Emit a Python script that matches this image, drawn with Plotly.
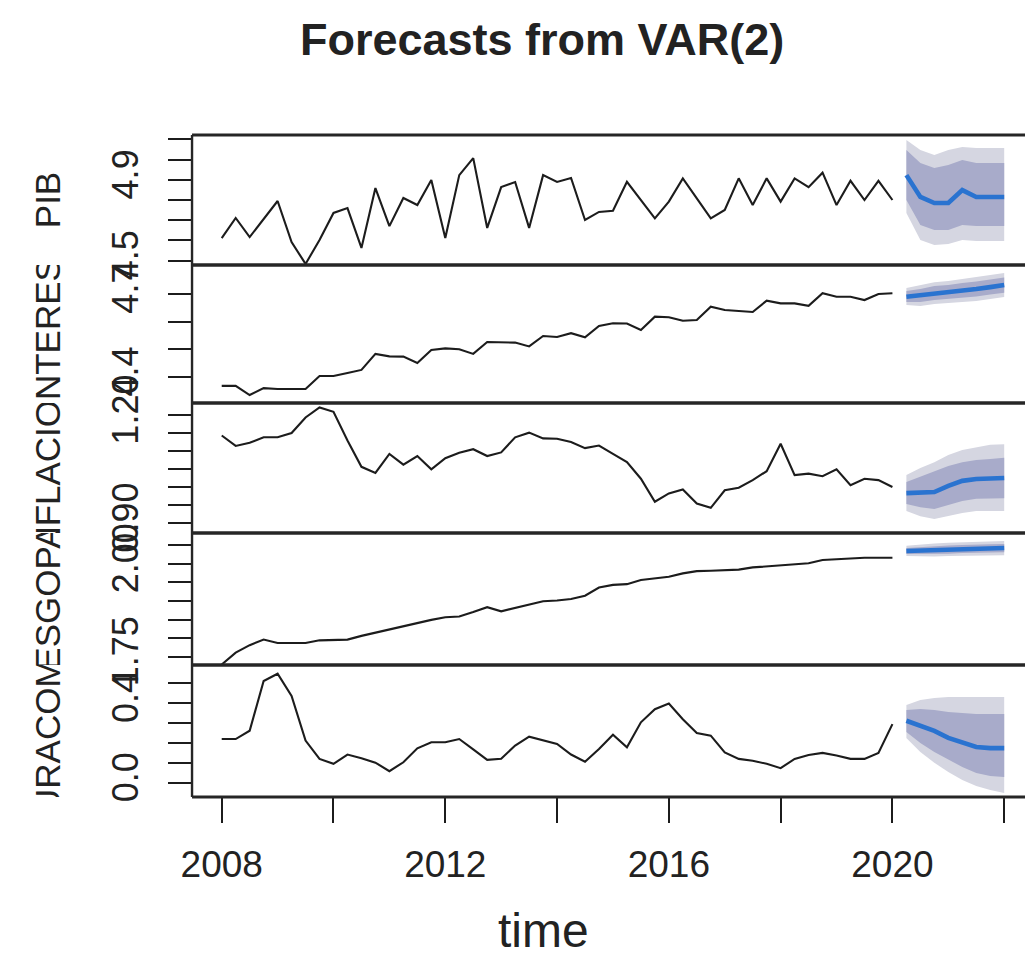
import plotly.graph_objects as go

# ---------------- data ----------------
time = [2008 + q / 4 for q in range(49)]          # 2008Q1 .. 2020Q1
fc_time = [2020 + q / 4 for q in range(1, 9)]     # 2020Q2 .. 2022Q1

names = ["PIB", "INTERES", "INFLACION", "RIESGOPAIS", "APERTURACOMERCIAL"]

pib = [4.612, 4.711, 4.617, 4.706, 4.795, 4.592, 4.484, 4.602, 4.736, 4.760,
       4.563, 4.859, 4.671, 4.810, 4.775, 4.899, 4.612, 4.923, 5.007, 4.662,
       4.864, 4.889, 4.662, 4.923, 4.889, 4.909, 4.701, 4.741, 4.747, 4.890,
       4.800, 4.709, 4.792, 4.907, 4.808, 4.709, 4.751, 4.907, 4.775, 4.907,
       4.792, 4.907, 4.863, 4.935, 4.775, 4.895, 4.800, 4.895, 4.800]
interes = [4.367, 4.367, 4.334, 4.359, 4.356, 4.356, 4.356, 4.403, 4.403, 4.414,
           4.425, 4.483, 4.474, 4.473, 4.450, 4.497, 4.503, 4.500, 4.483, 4.526,
           4.526, 4.524, 4.510, 4.548, 4.544, 4.558, 4.543, 4.584, 4.594, 4.593,
           4.570, 4.618, 4.616, 4.603, 4.606, 4.654, 4.642, 4.639, 4.635, 4.676,
           4.666, 4.666, 4.657, 4.703, 4.690, 4.690, 4.678, 4.700, 4.703]
inflacion = [1.143, 1.114, 1.123, 1.138, 1.138, 1.150, 1.193, 1.221, 1.209, 1.129,
             1.056, 1.039, 1.092, 1.062, 1.086, 1.049, 1.080, 1.095, 1.105, 1.086,
             1.096, 1.138, 1.151, 1.135, 1.134, 1.125, 1.108, 1.115, 1.092, 1.069,
             1.023, 0.959, 0.982, 0.993, 0.954, 0.942, 0.991, 0.998, 1.019, 1.044,
             1.120, 1.033, 1.037, 1.030, 1.049, 1.005, 1.023, 1.019, 1.000]
riesgo = [1.729, 1.761, 1.781, 1.796, 1.787, 1.787, 1.787, 1.794, 1.795, 1.796,
          1.806, 1.815, 1.824, 1.833, 1.841, 1.849, 1.856, 1.858, 1.870, 1.883,
          1.872, 1.881, 1.889, 1.899, 1.901, 1.905, 1.914, 1.936, 1.943, 1.945,
          1.956, 1.961, 1.965, 1.974, 1.980, 1.981, 1.982, 1.984, 1.990, 1.993,
          1.997, 1.999, 2.001, 2.010, 2.012, 2.015, 2.016, 2.016, 2.016]
apertura = [0.220, 0.220, 0.262, 0.512, 0.549, 0.437, 0.212, 0.120, 0.095, 0.142,
            0.123, 0.101, 0.058, 0.103, 0.173, 0.204, 0.204, 0.220, 0.168, 0.115,
            0.121, 0.187, 0.232, 0.212, 0.195, 0.142, 0.106, 0.170, 0.242, 0.178,
            0.304, 0.370, 0.399, 0.320, 0.250, 0.237, 0.153, 0.120, 0.111, 0.095,
            0.073, 0.120, 0.140, 0.150, 0.137, 0.120, 0.120, 0.150, 0.295]

# forecasts: mean, 80% and 95% intervals
pib_mean = [4.923, 4.815, 4.785, 4.785, 4.849, 4.815, 4.815, 4.815]
pib_hi80 = [5.047, 4.983, 4.958, 4.973, 4.998, 4.983, 4.983, 4.983]
pib_lo80 = [4.800, 4.676, 4.652, 4.652, 4.676, 4.671, 4.671, 4.671]
pib_hi95 = [5.096, 5.047, 5.022, 5.047, 5.062, 5.057, 5.057, 5.057]
pib_lo95 = [4.736, 4.602, 4.578, 4.582, 4.602, 4.597, 4.597, 4.597]

int_mean = [4.690, 4.695, 4.704, 4.707, 4.713, 4.718, 4.725, 4.733]
int_hi80 = [4.711, 4.718, 4.729, 4.733, 4.740, 4.745, 4.753, 4.760]
int_lo80 = [4.671, 4.671, 4.678, 4.682, 4.686, 4.691, 4.698, 4.705]
int_hi95 = [4.722, 4.733, 4.743, 4.747, 4.754, 4.762, 4.769, 4.776]
int_lo95 = [4.660, 4.657, 4.664, 4.667, 4.671, 4.675, 4.682, 4.689]

inf_mean = [0.983, 0.983, 0.986, 1.003, 1.017, 1.022, 1.025, 1.025]
inf_hi80 = [1.014, 1.028, 1.042, 1.058, 1.069, 1.075, 1.078, 1.081]
inf_lo80 = [0.953, 0.944, 0.939, 0.950, 0.961, 0.967, 0.969, 0.969]
inf_hi95 = [1.033, 1.053, 1.069, 1.089, 1.103, 1.111, 1.117, 1.119]
inf_lo95 = [0.933, 0.919, 0.911, 0.919, 0.928, 0.933, 0.933, 0.933]

rie_mean = [2.034, 2.035, 2.037, 2.038, 2.040, 2.040, 2.041, 2.042]
rie_hi80 = [2.042, 2.045, 2.048, 2.049, 2.050, 2.050, 2.052, 2.053]
rie_lo80 = [2.026, 2.026, 2.026, 2.027, 2.029, 2.029, 2.030, 2.031]
rie_hi95 = [2.048, 2.052, 2.054, 2.056, 2.057, 2.058, 2.060, 2.061]
rie_lo95 = [2.021, 2.019, 2.019, 2.021, 2.022, 2.022, 2.023, 2.023]

ape_mean = [0.312, 0.286, 0.261, 0.226, 0.202, 0.180, 0.174, 0.174]
ape_hi80 = [0.366, 0.371, 0.366, 0.356, 0.351, 0.346, 0.346, 0.346]
ape_lo80 = [0.255, 0.200, 0.155, 0.115, 0.079, 0.049, 0.034, 0.029]
ape_hi95 = [0.392, 0.417, 0.427, 0.432, 0.432, 0.432, 0.432, 0.432]
ape_lo95 = [0.225, 0.155, 0.100, 0.054, 0.014, -0.016, -0.037, -0.052]

series = [pib, interes, inflacion, riesgo, apertura]
means = [pib_mean, int_mean, inf_mean, rie_mean, ape_mean]
hi80 = [pib_hi80, int_hi80, inf_hi80, rie_hi80, ape_hi80]
lo80 = [pib_lo80, int_lo80, inf_lo80, rie_lo80, ape_lo80]
hi95 = [pib_hi95, int_hi95, inf_hi95, rie_hi95, ape_hi95]
lo95 = [pib_lo95, int_lo95, inf_lo95, rie_lo95, ape_lo95]

tick_vals = [
    [4.5, 4.6, 4.7, 4.8, 4.9, 5.0, 5.1],
    [4.4, 4.5, 4.6, 4.7],
    [0.90, 0.95, 1.00, 1.05, 1.10, 1.15, 1.20],
    [1.75, 1.80, 1.85, 1.90, 1.95, 2.00, 2.05],
    [0.0, 0.1, 0.2, 0.3, 0.4, 0.5],
]
tick_text = [
    ["4.5", "", "", "", "4.9", "", ""],
    ["4.4", "", "", "4.7"],
    ["0.90", "", "", "", "", "", "1.20"],
    ["1.75", "", "", "", "", "2.00", ""],
    ["0.0", "", "", "", "0.4", ""],
]
x_tick_vals = [2008, 2010, 2012, 2014, 2016, 2018, 2020, 2022]
x_tick_text = ["2008", "", "2012", "", "2016", "", "2020", ""]

# ---------------- layout constants ----------------
W, H = 1025, 965
PLOT_L, PLOT_T, PLOT_B = 183, 135, 797
panel_px = [(135, 265), (265, 403), (403, 533), (533, 665), (665, 797)]
y_ranges = [
    [4.4787, 5.1213],
    [4.3051, 4.8051],
    [0.8722, 1.2333],
    [1.7277, 2.0825],
    [-0.0720, 0.5929],
]
x_range = [2007.469, 2022.372]

FONT = "Liberation Sans, Arial, sans-serif"
TXT = "#222222"
LINE = "#1c1c1c"
BLUE = "#2A73D0"
DARK = "#A8ABCA"
LIGHT = "#D5D6E1"
ph = PLOT_B - PLOT_T


def pdom(top, bot):
    return [(PLOT_B - bot) / ph, (PLOT_B - top) / ph]


fig = go.Figure()
for i in range(5):
    yax = "y" if i == 0 else f"y{i + 1}"
    common = dict(xaxis="x", yaxis=yax, showlegend=False, hoverinfo="skip")
    fig.add_trace(go.Scatter(x=fc_time, y=lo95[i], mode="lines",
                             line=dict(width=0, color=LIGHT), **common))
    fig.add_trace(go.Scatter(x=fc_time, y=hi95[i], mode="lines", fill="tonexty",
                             fillcolor=LIGHT, line=dict(width=0, color=LIGHT), **common))
    fig.add_trace(go.Scatter(x=fc_time, y=lo80[i], mode="lines",
                             line=dict(width=0, color=DARK), **common))
    fig.add_trace(go.Scatter(x=fc_time, y=hi80[i], mode="lines", fill="tonexty",
                             fillcolor=DARK, line=dict(width=0, color=DARK), **common))
    fig.add_trace(go.Scatter(x=fc_time, y=means[i], mode="lines",
                             line=dict(width=4.6, color=BLUE), **common))
    fig.add_trace(go.Scatter(x=time, y=series[i], mode="lines",
                             line=dict(width=2.1, color=LINE), **common))
    # variable name, clipped to its own panel (like R's margin text)
    r = y_ranges[i]
    fig.add_trace(go.Bar(
        x=[0.36], y=[r[1] - r[0]], base=[r[0]], width=[0.6],
        xaxis="x2", yaxis=yax, text=[names[i]], textposition="inside",
        insidetextanchor="middle", textangle=-90, constraintext="none",
        insidetextfont=dict(size=35, color=TXT, family=FONT),
        marker=dict(color="rgba(0,0,0,0)", line=dict(width=0)),
        cliponaxis=True, showlegend=False, hoverinfo="skip"))

layout = dict(
    width=W, height=H,
    margin=dict(l=0, r=0, t=PLOT_T, b=H - PLOT_B, pad=0),
    paper_bgcolor="white", plot_bgcolor="white",
    font=dict(family=FONT, color=TXT),
    showlegend=False,
    xaxis=dict(domain=[PLOT_L / W, 1], range=x_range, anchor="y5",
               tickvals=x_tick_vals, ticktext=x_tick_text,
               ticks="outside", ticklen=25, tickwidth=2, tickcolor=LINE,
               tickfont=dict(size=37, family=FONT, color=TXT),
               ticklabelstandoff=10,
               showgrid=False, zeroline=False, showline=False),
    xaxis2=dict(domain=[0, 0.1], range=[0, 1], anchor="y5", visible=False),
)
for i in range(5):
    key = "yaxis" if i == 0 else f"yaxis{i + 1}"
    layout[key] = dict(
        domain=pdom(*panel_px[i]), range=y_ranges[i], anchor="x",
        tickvals=tick_vals[i], ticktext=tick_text[i], tickangle=-90,
        ticks="outside", ticklen=23, tickwidth=2, tickcolor=LINE,
        tickfont=dict(size=36, family=FONT, color=TXT),
        ticklabelstandoff=16,
        showgrid=False, zeroline=False, showline=False)
fig.update_layout(**layout)

# panel frames
shapes = []
for top, bot in panel_px:
    for yy in (top, bot):
        shapes.append(dict(type="line", xref="paper", yref="paper",
                           x0=PLOT_L / W, x1=1, y0=(PLOT_B - yy) / ph, y1=(PLOT_B - yy) / ph,
                           line=dict(color="#262626", width=2.8), layer="above"))
shapes.append(dict(type="line", xref="paper", yref="paper",
                   x0=PLOT_L / W, x1=PLOT_L / W, y0=0, y1=1,
                   line=dict(color="#262626", width=2.4), layer="above"))
fig.update_layout(shapes=shapes)

fig.add_annotation(text="<b>Forecasts from VAR(2)</b>", xref="paper", yref="paper",
                   x=537 / W, y=(PLOT_B - 40) / ph, xanchor="center", yanchor="middle",
                   showarrow=False, font=dict(size=45, family=FONT, color=TXT))
fig.add_annotation(text="time", xref="paper", yref="paper",
                   x=538 / W, y=(PLOT_B - 930) / ph, xanchor="center", yanchor="middle",
                   showarrow=False, font=dict(size=48, family=FONT, color=TXT))

fig.write_html("out.html")
